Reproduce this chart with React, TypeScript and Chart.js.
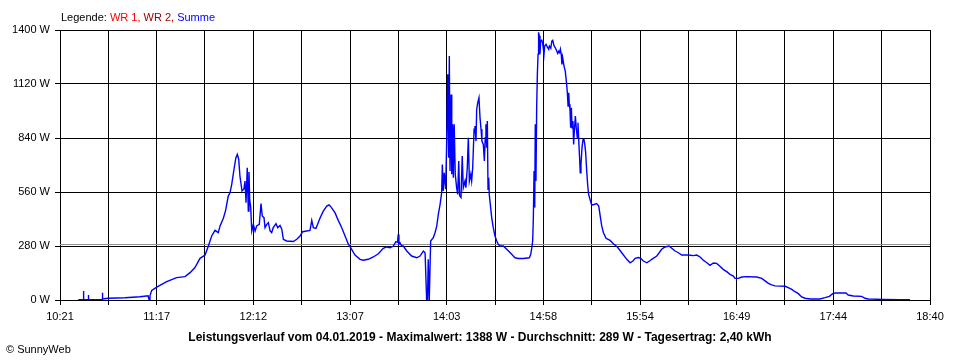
import React, { useEffect, useRef } from "react";
import { Chart, registerables } from "chart.js";

Chart.register(...registerables);

// X axis: minutes since midnight
const X_MIN = 621; // 10:21
const X_MAX = 1120; // 18:40
const X_GRID_COUNT = 18;
const xTickLabels = ["10:21", "11:17", "12:12", "13:07", "14:03", "14:58", "15:54", "16:49", "17:44", "18:40"];
const yTickValues = [0, 280, 560, 840, 1120, 1400];
const averageW = 289;

const legendParts = [
  { text: "Legende: ", color: "#000000" },
  { text: "WR 1, ", color: "#ff0000" },
  { text: "WR 2, ", color: "#a00000" },
  { text: "Summe", color: "#0000ff" },
];
const titleText = "Leistungsverlauf vom 04.01.2019 - Maximalwert: 1388 W - Durchschnitt: 289 W - Tagesertrag: 2,40 kWh";
const copyrightText = "\u00a9 SunnyWeb";

// Morning (10:31 - 12:00)
const morningTimes = [631.5, 632.5, 634.2, 634.4, 634.7, 637.1, 637.2, 637.5, 641.1, 645.1, 645.3, 645.5, 648.7, 658.3, 666.9, 671.5, 672.2, 672.6, 673.6, 676.5, 682.2, 687.9, 692.7, 695.6, 698.4, 701.3, 704.2, 706.1, 708.0, 709.9, 711.8, 712.8, 714.7, 716.0, 717.5, 718.5];
const morningWatts = [2, 2, 2, 47, 2, 2, 26, 2, 2, 2, 38, 5, 9, 12, 17, 22, 0, 22, 50, 67, 95, 116, 121, 142, 168, 216, 233, 280, 332, 361, 349, 384, 424, 465, 539, 556];

// Midday (12:00 - 14:00)
const middayTimes = [719.5, 720.8, 721.9, 722.7, 723.5, 724.2, 725.4, 726.5, 727.1, 727.7, 728.4, 729.0, 729.4, 729.8, 730.4, 731.0, 731.9, 732.9, 733.8, 735.3, 736.3, 737.0, 738.0, 738.6, 739.6, 740.5, 741.5, 742.4, 743.3, 744.9, 745.9, 747.2, 748.2, 749.1, 751.0, 754.8, 756.8, 758.7, 760.2, 764.4, 765.4, 766.3, 767.8, 768.6, 770.1, 772.0, 774.0, 775.3, 776.4, 778.7, 780.6, 782.6, 784.5, 786.4, 787.7, 790.2, 793.1, 795.0, 797.8, 800.7, 803.6, 806.4, 808.4, 810.3, 812.2, 813.6, 814.6, 815.0, 815.4, 816.0, 817.0, 817.9, 819.9, 822.7, 825.6, 827.5, 829.4, 830.4, 831.3, 831.8, 832.2, 832.6, 832.8, 833.2];
const middayWatts = [600, 678, 738, 755, 730, 643, 565, 576, 617, 505, 686, 461, 664, 520, 479, 358, 392, 358, 384, 392, 500, 436, 427, 375, 392, 401, 358, 349, 375, 396, 375, 387, 367, 315, 306, 303, 315, 332, 354, 361, 413, 375, 371, 389, 424, 461, 487, 493, 483, 453, 413, 375, 332, 289, 271, 233, 211, 206, 211, 223, 240, 268, 275, 271, 280, 302, 300, 340, 290, 297, 280, 280, 254, 228, 219, 228, 254, 245, 0, 0, 211, 211, 0, 0];

// Early afternoon (14:00 - 15:25)
const afternoonTimes = [833.6, 835.1, 836.1, 837.1, 838.0, 839.0, 839.9, 840.3, 840.8, 841.4, 842.2, 842.8, 843.4, 843.9, 844.3, 844.7, 845.3, 845.7, 846.2, 846.6, 847.1, 847.7, 848.5, 849.1, 849.7, 850.2, 851.0, 851.7, 852.3, 853.3, 853.8, 854.6, 855.2, 855.8, 856.6, 857.1, 857.7, 858.5, 859.0, 859.6, 860.0, 860.6, 861.3, 861.9, 862.5, 863.0, 863.8, 864.4, 864.9, 865.3, 865.7, 866.1, 866.5, 866.9, 867.2, 868.0, 868.6, 869.5, 870.5, 871.5, 872.4, 873.4, 875.3, 877.2, 878.7, 881.0, 882.0, 883.9, 886.7, 890.2, 891.0, 891.6, 892.1, 892.5, 892.9, 893.3, 893.6, 894.0, 894.4, 894.8, 895.2, 895.5, 895.9, 896.3, 896.7, 897.3, 897.8, 898.6, 899.0, 899.8, 900.5, 901.3, 901.7, 902.5, 903.1, 903.6, 904.4, 905.1, 905.9, 906.5, 907.1, 907.6, 908.0, 908.5, 908.9, 909.3, 910.1, 910.8, 911.6, 912.0, 912.4, 912.8, 913.1, 913.5, 913.9, 914.3, 914.7, 915.2, 915.6, 916.0, 916.6, 917.1, 917.7, 918.1, 918.5, 919.1, 919.4, 919.8, 920.4, 921.0, 921.4, 922.0, 922.5, 923.1, 923.7, 924.2, 925.0];
const afternoonWatts = [306, 323, 349, 384, 444, 496, 556, 703, 565, 660, 574, 824, 1170, 738, 1265, 669, 1066, 652, 911, 634, 911, 652, 582, 548, 721, 540, 531, 747, 582, 617, 582, 686, 841, 617, 652, 617, 686, 885, 902, 824, 989, 1023, 1049, 945, 885, 824, 807, 721, 841, 911, 790, 928, 574, 634, 548, 479, 427, 375, 332, 306, 289, 280, 280, 263, 250, 228, 219, 215, 215, 219, 237, 271, 306, 427, 669, 479, 911, 617, 997, 1170, 1274, 1388, 1370, 1274, 1343, 1347, 1334, 1274, 1317, 1326, 1312, 1300, 1317, 1305, 1343, 1347, 1317, 1308, 1291, 1278, 1291, 1283, 1300, 1274, 1222, 1257, 1213, 1187, 1118, 1075, 1006, 1075, 1015, 989, 893, 997, 893, 928, 807, 876, 954, 893, 841, 919, 833, 721, 660, 703, 790, 833, 838, 807, 764, 669, 591, 548, 522];

// Late afternoon / evening (15:25 - 18:29)
const eveningTimes = [925.8, 926.5, 928.8, 930.0, 930.7, 931.7, 932.7, 934.2, 936.5, 938.4, 940.7, 943.2, 946.1, 948.0, 949.6, 950.9, 952.7, 954.1, 955.6, 957.6, 959.1, 960.4, 963.3, 966.1, 968.0, 970.3, 971.9, 973.8, 975.7, 977.6, 981.4, 984.3, 986.2, 988.1, 990.0, 992.0, 993.8, 995.8, 997.6, 999.2, 1001.4, 1003.4, 1005.3, 1007.2, 1008.2, 1010.1, 1012.0, 1014.9, 1020.6, 1023.5, 1025.4, 1027.3, 1029.2, 1031.1, 1036.9, 1038.7, 1040.7, 1042.6, 1044.5, 1046.4, 1048.3, 1051.2, 1056.9, 1059.8, 1062.3, 1064.2, 1065.5, 1071.8, 1073.1, 1076.0, 1080.8, 1082.7, 1084.6, 1093.2, 1102.8, 1108.5];
const eveningWatts = [496, 493, 500, 487, 444, 384, 349, 320, 309, 292, 275, 245, 211, 193, 202, 216, 220, 216, 202, 193, 202, 211, 228, 263, 275, 280, 268, 254, 245, 233, 233, 230, 233, 223, 206, 193, 180, 192, 190, 178, 159, 147, 133, 124, 112, 112, 119, 121, 119, 112, 99, 86, 78, 73, 71, 64, 55, 43, 33, 16, 9, 5, 5, 12, 19, 33, 36, 36, 26, 21, 19, 9, 5, 3, 2, 1];

const FONT = "'Liberation Sans', Arial, sans-serif";

export default function App() {
  const canvasRef = useRef<HTMLCanvasElement | null>(null);

  useEffect(() => {
    const canvas = canvasRef.current;
    if (!canvas) return;

    const times = [...morningTimes, ...middayTimes, ...afternoonTimes, ...eveningTimes];
    const watts = [...morningWatts, ...middayWatts, ...afternoonWatts, ...eveningWatts];
    const points = times.map((t, i) => ({ x: t, y: watts[i] }));

    const xGridValues: number[] = [];
    for (let i = 0; i <= X_GRID_COUNT; i++) {
      xGridValues.push(X_MIN + ((X_MAX - X_MIN) * i) / X_GRID_COUNT);
    }

    const decorPlugin = {
      id: "decor",
      beforeDatasetsDraw(chart: any) {
        const { ctx, chartArea, scales } = chart;
        const y = Math.round(scales.y.getPixelForValue(averageW)) + 0.5;
        ctx.save();
        ctx.strokeStyle = "#909090";
        ctx.lineWidth = 1;
        ctx.beginPath();
        ctx.moveTo(chartArea.left, y);
        ctx.lineTo(chartArea.right, y);
        ctx.stroke();
        ctx.restore();
      },
      afterDraw(chart: any) {
        const { ctx, width } = chart;
        ctx.save();
        ctx.textBaseline = "alphabetic";
        ctx.font = `11px ${FONT}`;
        let x = 61;
        for (const part of legendParts) {
          ctx.fillStyle = part.color;
          ctx.textAlign = "left";
          ctx.fillText(part.text, x, 20.5);
          x += ctx.measureText(part.text).width;
        }
        ctx.font = `bold 12px ${FONT}`;
        ctx.fillStyle = "#000000";
        ctx.textAlign = "center";
        ctx.fillText(titleText, width / 2, 340.5);
        ctx.font = `11px ${FONT}`;
        ctx.textAlign = "left";
        ctx.fillText(copyrightText, 6, 352.5);
        ctx.restore();
      },
    };

    const chart = new Chart(canvas, {
      type: "line",
      data: {
        datasets: [
          {
            label: "Summe",
            data: points,
            borderColor: "#0000ff",
            borderWidth: 1.4,
            pointRadius: 0,
            tension: 0,
            fill: false,
          },
        ],
      },
      options: {
        responsive: false,
        animation: false,
        devicePixelRatio: 1,
        layout: { padding: { top: 30, right: 30, left: 0, bottom: 0 } },
        plugins: { legend: { display: false }, tooltip: { enabled: false }, title: { display: false } },
        scales: {
          x: {
            type: "linear",
            min: X_MIN,
            max: X_MAX,
            afterBuildTicks(scale: any) {
              scale.ticks = xGridValues.map((v) => ({ value: v }));
            },
            afterFit(scale: any) {
              scale.height = 60;
            },
            grid: { color: "#000000", lineWidth: 1, tickLength: 5, tickColor: "#000000", drawTicks: true },
            border: { color: "#000000", width: 1 },
            ticks: {
              autoSkip: false,
              maxRotation: 0,
              minRotation: 0,
              padding: 5,
              color: "#000000",
              font: { family: FONT, size: 11 },
              callback(_v: any, idx: number) {
                return idx % 2 === 0 ? xTickLabels[idx / 2] : "";
              },
            },
          },
          y: {
            type: "linear",
            min: 0,
            max: 1400,
            afterBuildTicks(scale: any) {
              scale.ticks = yTickValues.map((v) => ({ value: v }));
            },
            afterFit(scale: any) {
              scale.width = 60;
            },
            grid: { color: "#000000", lineWidth: 1, tickLength: 5, tickColor: "#000000", drawTicks: true },
            border: { color: "#000000", width: 1 },
            ticks: {
              padding: 5,
              color: "#000000",
              font: { family: FONT, size: 11 },
              callback(v: any) {
                return `${v} W`;
              },
            },
          },
        },
      },
      plugins: [decorPlugin],
    });

    return () => chart.destroy();
  }, []);

  return (
    <div style={{ position: "absolute", left: 0, top: 0, width: 960, height: 360, background: "#ffffff" }}>
      <canvas ref={canvasRef} width={960} height={360} style={{ display: "block" }} />
    </div>
  );
}
